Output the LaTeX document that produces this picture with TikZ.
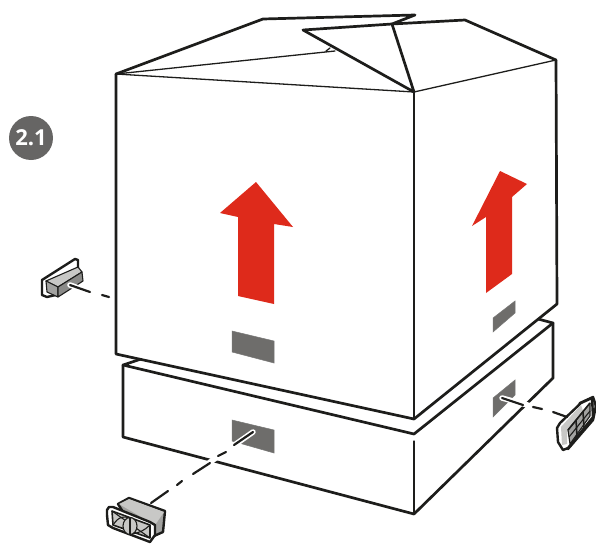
\documentclass[tikz,border=0pt]{standalone}
\usepackage{fontspec}
\setmainfont{Open Sans}
\definecolor{slot}{HTML}{6E6D6B}
\definecolor{badge}{HTML}{666564}
\definecolor{redarrow}{HTML}{DE2A1B}
\definecolor{clipl}{HTML}{C8C8C6}
\definecolor{clipm}{HTML}{A2A2A0}
\definecolor{line}{HTML}{1D1D1B}
\tikzset{
  heavy/.style={draw=line,line width=2.7pt,line join=round,line cap=round},
  fine/.style={draw=line,line width=1.3pt,line join=round,line cap=round},
  slotface/.style={fill=slot,draw=line!60,line width=.5pt},
  arrowface/.style={fill=redarrow},
  halo/.style={draw=white,line width=5.5pt,line cap=round},
  dashpiece/.style={draw=line,line width=2.2pt,line cap=round},
  clipdraw/.style={draw=line,line width=2.4pt,line join=round},
  clipthin/.style={draw=line,line width=1.1pt,line join=round},
}
\begin{document}
\begin{tikzpicture}[x=1pt,y=-1pt]
\useasboundingbox (0,0) rectangle (596,543);
% pallet
\draw[heavy] (141,359) -- (123,365) -- (414,434) -- (553,323) -- (538,319);
\draw[heavy] (123,365) -- (123,437) -- (414,514) -- (553,378) -- (553,323);
\draw[fine] (414,441) -- (414,514);
% box
\draw[heavy,fill=white] (116,74) -- (116,354) -- (414,419) -- (557,304) -- (556,60);
\draw[fine] (414,92) -- (414,419);
\draw[heavy] (116,74) -- (263,19) -- (415,15) -- (392,24) -- (465,20) -- (556,60);
\draw[heavy] (392,24) -- (303,30) -- (414,92) -- (392,24);
\draw[fine] (116,74) -- (414,92) -- (556,60);
\draw[fine] (116,74) -- (335,51) (326,51) -- (330,48);
% slots
\path[slotface] (232,331) -- (274,341) -- (274,363) -- (232,352) -- cycle;
\path[slotface] (232,420) -- (274,430) -- (274,453) -- (232,441) -- cycle;
\path[slotface] (493,318) -- (515,301) -- (515,313) -- (493,332) -- cycle;
\path[slotface] (493,398) -- (515,380) -- (515,395) -- (493,417) -- cycle;
% arrows
\path[arrowface] (256,182) -- (293,227) -- (274,224) -- (274,304) -- (238,296) -- (238,217) -- (220,213) -- cycle;
\path[arrowface] (500,171) -- (527,184) -- (512,197) -- (512,274) -- (486,293) -- (486,217) -- (472,226) -- cycle;
% left clip
\path[clipdraw,fill=white] (42,280) -- (75,259) -- (78,260) -- (78,272) -- (60,294) -- (47,297) -- (42,295) -- cycle;
\path[clipthin,fill=clipl] (46,281) -- (78,267) -- (82,272) -- (58,287) -- cycle;
\path[clipthin,fill=clipm] (46,281) -- (58,287) -- (58,297) -- (47,292) -- cycle;
\path[clipthin,fill=clipm!85!black] (58,287) -- (82,272) -- (83,281) -- (58,297) -- cycle;
% lower-left clip
\path[clipdraw,fill=clipm] (118,504) -- (129,498) -- (165,511) -- (163,532) -- (154,536) -- (125,515) -- cycle;
\path[fill=clipl] (119,504) -- (129,499) -- (164,512) -- (155,525) -- cycle;
\path[clipdraw,fill=white] (107,510) -- (109,507) -- (113,507) -- (150,522) -- (155,525) -- (155,535) -- (150,542) -- (113,528) -- (108,525) -- (107,515) -- cycle;
\path[clipdraw,line width=1.6pt,fill=clipl] (112,511) -- (150,525) -- (150,538) -- (113,525) -- cycle;
\draw[clipthin] (113,525) .. controls (119,516) and (124,516) .. (130,518) (130,534) .. controls (138,534) and (145,530) .. (150,525);
\draw[clipthin] (112,511) -- (150,538);
\draw[clipthin,fill=clipl] (130,526) ellipse (7 and 8.5);
\draw[clipthin] (130,517.5) -- (130,534.5);
% right clip
\path[clipdraw,fill=clipm] (580,403) -- (593,397) -- (596,406) -- (593,420) -- (568,449) -- (564,440) -- cycle;
\path[clipdraw,fill=white] (557,428) -- (560,423) -- (581,403) -- (592,398) -- (593,417) -- (568,448) -- (563,450) -- (558,442) -- cycle;
\path[fill=clipl] (561,427) -- (581,405) -- (583,411) -- (567,432) -- (567,444) -- (562,445) -- cycle;
\path[clipthin,fill=clipm] (568,430) -- (590,403) -- (590,416) -- (570,444) -- cycle;
\draw[clipdraw,line width=1.6pt] (568,430) -- (590,403);
\draw[clipdraw,line width=1.6pt] (576,420) -- (577,436) (583,412) -- (584,427);
\draw[clipthin] (569,437) -- (590,411);
% dashed links
\draw[halo] (253,432) -- (193,474);
\draw[halo] (502,398) -- (542,409);
\draw[halo] (70,285) -- (90,292);
\draw[dashpiece] (70,285) -- (90,292) (102,295) -- (109,297);
\draw[dashpiece] (253,432) -- (234,445) (226,452) -- (218,456) (210,463) -- (193,474) (182,481) -- (177,485) (168,491) -- (151,503);
\draw[dashpiece] (502,398) -- (523,405) (533,407) -- (542,409) (553,412) -- (567,417);
% badge
\node[circle,fill=badge,minimum size=44pt,inner sep=0pt,text=white,font=\fontsize{22}{24}\selectfont\bfseries] (tag) at (31,138) {2.1};
\end{tikzpicture}
\end{document}
